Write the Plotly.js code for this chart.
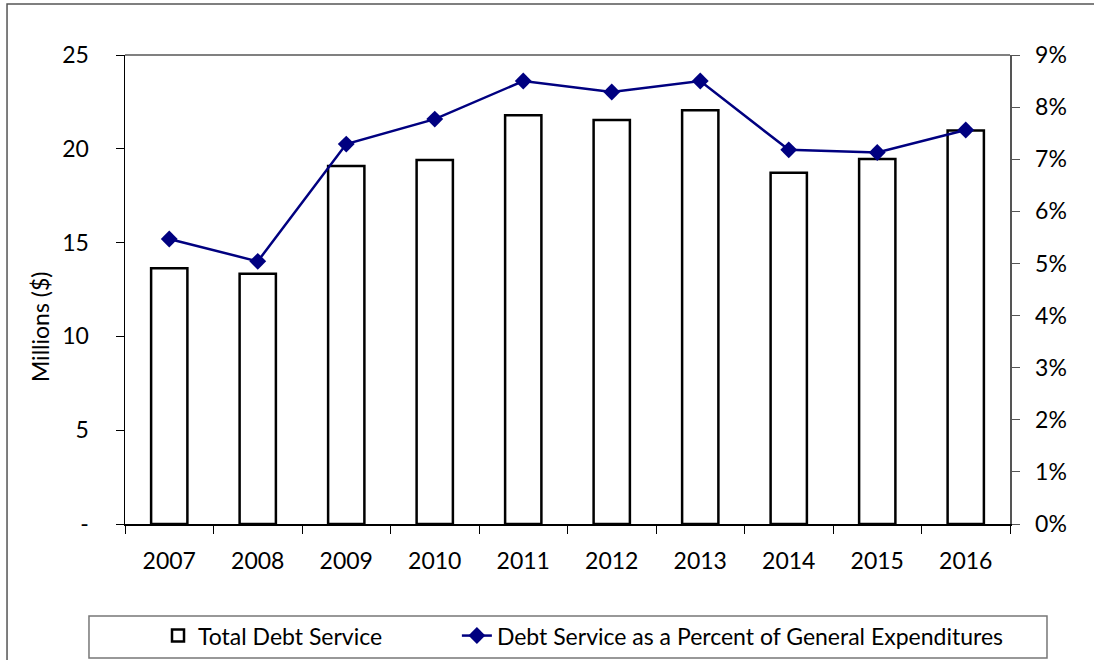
<!DOCTYPE html>
<html>
<head>
<meta charset="utf-8">
<script src="https://cdn.plot.ly/plotly-3.0.1.min.js"></script>
<style>html,body{margin:0;padding:0;background:#fff;}#chart{width:1094px;height:660px;}</style>
</head>
<body>
<div id="chart"></div>
<script>
const years = [2007, 2008, 2009, 2010, 2011, 2012, 2013, 2014, 2015, 2016];
const totalDebtService = [13.63, 13.34, 19.08, 19.40, 21.79, 21.54, 22.05, 18.73, 19.46, 20.97];
const debtPctOfExpenditures = [5.47, 5.04, 7.29, 7.77, 8.50, 8.29, 8.50, 7.18, 7.13, 7.56];
const leftTickVals = [0, 5, 10, 15, 20, 25];
const leftTickText = ['-', '5', '10', '15', '20', '25'];
const rightTickVals = [0, 1, 2, 3, 4, 5, 6, 7, 8, 9];
const rightTickText = rightTickVals.map(v => v + '%');
const yTitle = 'Millions ($)';

const FONT = 'Lato, "Open Sans", sans-serif';

const traces = [
  {
    type: 'bar', name: 'Total Debt Service', x: years, y: totalDebtService,
    marker: {color: '#ffffff', line: {color: '#000000', width: 2.5}},
    xaxis: 'x', yaxis: 'y', legend: 'legend'
  },
  {
    type: 'scatter', mode: 'lines+markers', name: 'Debt Service as a Percent of General Expenditures',
    x: years, y: debtPctOfExpenditures,
    line: {color: '#000080', width: 2.5},
    marker: {symbol: 'diamond', size: 13, color: '#000080'},
    xaxis: 'x', yaxis: 'y2', legend: 'legend2'
  }
];

const xr = [2006.5, 2016.5];
const legendBase = {
  orientation: 'h', xanchor: 'left', y: -0.238, yanchor: 'middle',
  font: {family: FONT, size: 23, color: '#000'},
  bgcolor: 'rgba(0,0,0,0)', borderwidth: 0
};
const layout = {
  width: 1094, height: 660,
  margin: {l: 125, r: 84, t: 55, b: 136, autoexpand: false},
  paper_bgcolor: '#ffffff', plot_bgcolor: '#ffffff',
  font: {family: FONT, size: 23, color: '#000'},
  bargap: 0.59,
  showlegend: true,
  legend: Object.assign({}, legendBase, {x: 0.0373}),
  legend2: Object.assign({}, legendBase, {x: 0.375}),
  xaxis: {
    range: xr, tickvals: years, ticktext: years.map(String), ticks: '',
    showline: true, linecolor: '#000', linewidth: 1.5, showgrid: false, zeroline: false,
    ticklabelstandoff: 16, tickfont: {size: 23},
    minor: {tick0: 2006.5, dtick: 1, ticks: 'outside', ticklen: 8, tickcolor: '#000', tickwidth: 1, showgrid: false}
  },
  xaxis2: {
    range: xr, overlaying: 'x', anchor: 'y', side: 'bottom', showticklabels: false,
    tick0: 2006.5, dtick: 1, ticks: 'inside', ticklen: 8, tickcolor: '#000', tickwidth: 1,
    showline: false, showgrid: false, zeroline: false
  },
  yaxis: {
    range: [0, 25], tickvals: leftTickVals, ticktext: leftTickText,
    ticks: 'outside', ticklen: 8, tickcolor: '#000', tickwidth: 1,
    showline: true, linecolor: '#000', linewidth: 1.5, showgrid: false, zeroline: false,
    ticklabelstandoff: 22, tickfont: {size: 23}
  },
  yaxis3: {
    range: [0, 25], overlaying: 'y', side: 'left', anchor: 'x', tickvals: leftTickVals, showticklabels: false,
    ticks: 'inside', ticklen: 8, tickcolor: '#000', tickwidth: 1, showline: false, showgrid: false, zeroline: false
  },
  yaxis2: {
    range: [0, 9], overlaying: 'y', side: 'right', anchor: 'x', tickvals: rightTickVals, ticktext: rightTickText,
    ticks: 'outside', ticklen: 8, tickcolor: '#555', tickwidth: 1,
    showline: true, linecolor: '#555', linewidth: 1.5, showgrid: false, zeroline: false,
    ticklabelstandoff: 11, tickfont: {size: 23}
  },
  yaxis4: {
    range: [0, 9], overlaying: 'y', side: 'right', anchor: 'x', tickvals: rightTickVals, showticklabels: false,
    ticks: 'inside', ticklen: 8, tickcolor: '#555', tickwidth: 1, showline: false, showgrid: false, zeroline: false
  },
  annotations: [
    {text: yTitle, xref: 'paper', yref: 'paper', x: -0.096, y: 0.42, xanchor: 'center', yanchor: 'middle',
     textangle: -90, showarrow: false, font: {family: FONT, size: 23, color: '#000'}}
  ],
  shapes: [
    {type: 'line', xref: 'paper', yref: 'paper', x0: 0, x1: 1, y0: 1, y1: 1, line: {color: '#808080', width: 2}},
    {type: 'rect', xref: 'paper', yref: 'paper', x0: -0.1333, x1: 1.3, y0: -0.4, y1: 1.1087, line: {color: '#555', width: 1.5}, layer: 'below'},
    {type: 'rect', xref: 'paper', yref: 'paper', x0: -0.0407, x1: 1.0418, y0: -0.2857, y1: -0.1962, line: {color: '#777', width: 1.5}}
  ]
};

Plotly.newPlot('chart', traces, layout, {displayModeBar: false, staticPlot: true});
</script>
</body>
</html>
